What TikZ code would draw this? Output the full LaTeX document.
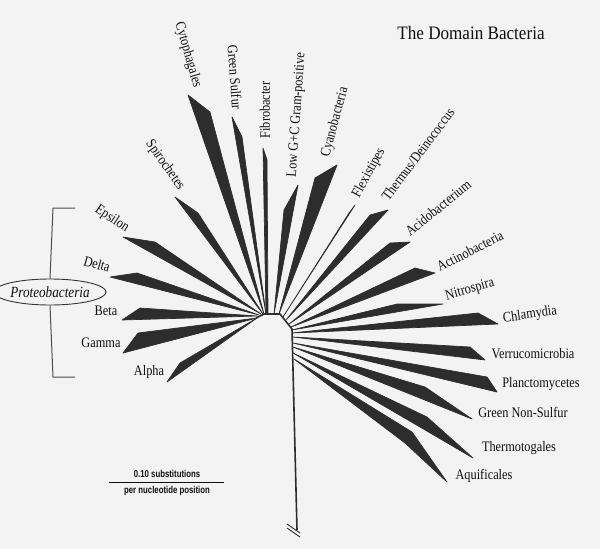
\documentclass[tikz,border=0pt]{standalone}
\usepackage{fontspec}
\usepackage{graphicx}
\usetikzlibrary{shapes.geometric}
\setmainfont{Liberation Serif}
\newfontfamily\barfont{Liberation Sans}
\newcommand\cnd[1]{\scalebox{0.85}[1]{#1}}
\newcommand\cndt[1]{\scalebox{0.9}[1]{#1}}
\newcommand\cndb[1]{\scalebox{0.78}[1]{#1}}
\definecolor{bg}{RGB}{243,243,243}
\definecolor{wedgecol}{RGB}{45,45,45}
\definecolor{inkcol}{RGB}{15,15,15}
\begin{document}
\begin{tikzpicture}[x=1pt,y=-1pt,
  wedge/.style={fill=wedgecol,draw=wedgecol,line width=0.7pt,line join=round},
  hub/.style={draw=wedgecol,line width=1.6pt,line join=round},
  lab/.style={font=\fontsize{14.5}{16}\selectfont,text=inkcol,inner sep=0pt},
  brk/.style={draw=black!70,line width=1pt},
  barlab/.style={font=\barfont\bfseries\fontsize{10}{11}\selectfont,text=inkcol,inner sep=0pt}]
\path[fill=bg] (0,0) rectangle (600,549);
\useasboundingbox (0,0) rectangle (600,549);

% hub
\coordinate (h1) at (256,318);
\coordinate (h2) at (264,314);
\coordinate (h3) at (280,314);
\coordinate (h4) at (292,329);
\coordinate (hend) at (297,530);
\draw[hub] (h1) -- (h2) -- (h3) -- (h4) -- (hend);
\coordinate (s1a) at (287,524); \coordinate (s1b) at (300,533);
\coordinate (s2a) at (287,528); \coordinate (s2b) at (300,537);
\draw[draw=wedgecol,line width=0.9pt] (s1a) -- (s1b);
\draw[draw=wedgecol,line width=0.9pt] (s2a) -- (s2b);

% wedges: left (Proteobacteria)
\fill[wedge] (257,318) -- (180,363) -- (167,382) -- cycle; % Alpha
\fill[wedge] (257,318) -- (138,333) -- (123,353) -- cycle; % Gamma
\fill[wedge] (257,316) -- (140,308) -- (122,320) -- cycle; % Beta
\fill[wedge] (259,315) -- (137,273) -- (110,277) -- cycle; % Delta
\fill[wedge] (261,314) -- (155,242) -- (123,237) -- cycle; % Epsilon
% top
\fill[wedge] (263,314) -- (198,213) -- (175,197) -- cycle; % Spirochetes
\fill[wedge] (264,314) -- (210,112) -- (188,95) -- cycle; % Cytophagales
\fill[wedge] (266,314) -- (242,137) -- (232,117) -- cycle; % Green Sulfur
\fill[wedge] (268,314) -- (267,160) -- (263,148) -- (266,314) -- cycle; % Fibrobacter
\fill[wedge] (274,314) -- (284,210) -- (298,185) -- cycle; % Low G+C
\fill[wedge] (279,314) -- (315,178) -- (337,165) -- cycle; % Cyanobacteria
\fill[wedge] (283,317) -- (349,213) -- (355,205) -- cycle; % Flexistipes
\fill[wedge] (286,320) -- (370,215) -- (388,210) -- cycle; % Thermus
\fill[wedge] (289,324) -- (390,243) -- (410,242) -- cycle; % Acidobacterium
\fill[wedge] (291,327) -- (415,268) -- (435,273) -- cycle; % Actinobacteria
% right
\fill[wedge] (292,330) -- (397,304) -- (443,304) -- cycle; % Nitrospira
\fill[wedge] (292,333) -- (478,313) -- (498,324) -- cycle; % Chlamydia
\fill[wedge] (293,337) -- (470,347) -- (485,360) -- cycle; % Verrucomicrobia
\fill[wedge] (293,343) -- (487,377) -- (497,392) -- cycle; % Planctomycetes
\fill[wedge] (293,347) -- (425,387) -- (472,419) -- cycle; % Green Non-Sulfur
\fill[wedge] (293,353) -- (427,417) -- (473,458) -- (420,427) -- cycle; % Thermotogales
\fill[wedge] (294,359) -- (412,432) -- (447,482) -- (405,443) -- cycle; % Aquificales

% labels
\node[lab,rotate=-74] (lCyto) at (188,55) {\cnd{Cytophagales}};
\node[lab,rotate=-86] (lGS) at (235,77) {\cnd{Green Sulfur}};
\node[lab,rotate=90] (lFib) at (265,110) {\cnd{Fibrobacter}};
\node[lab,rotate=86] (lLow) at (297,115) {\cnd{Low G+C Gram-positive}};
\node[lab,rotate=75] (lCyan) at (335,122) {\cnd{Cyanobacteria}};
\node[lab,rotate=61] (lFlex) at (369,173) {\cnd{Flexistipes}};
\node[lab,rotate=53] (lTher) at (418,154) {\cnd{Thermus/Deinococcus}};
\node[lab,rotate=39] (lAcid) at (438,208) {\cnd{Acidobacterium}};
\node[lab,rotate=27] (lActi) at (470,251) {\cnd{Actinobacteria}};
\node[lab,rotate=16] (lNit) at (470,290) {\cnd{Nitrospira}};
\node[lab,rotate=8] (lChl) at (530,315) {\cnd{Chlamydia}};
\node[lab] (lVer) at (533,354) {\cnd{Verrucomicrobia}};
\node[lab] (lPla) at (541,384) {\cnd{Planctomycetes}};
\node[lab] (lGNS) at (523,412) {\cnd{Green Non-Sulfur}};
\node[lab] (lTmt) at (519,448) {\cnd{Thermotogales}};
\node[lab] (lAqu) at (484,476) {\cnd{Aquificales}};
\node[lab,rotate=-55] (lSpi) at (165,165) {\cnd{Spirochetes}};
\node[lab,rotate=-34] (lEps) at (112,219) {\cnd{Epsilon}};
\node[lab,rotate=-16] (lDel) at (97,264) {\cnd{Delta}};
\node[lab] (lBet) at (106,311) {\cnd{Beta}};
\node[lab] (lGam) at (101,343) {\cnd{Gamma}};
\node[lab] (lAlp) at (149,372) {\cnd{Alpha}};

% title
\node[font=\fontsize{19}{21}\selectfont,text=inkcol,inner sep=0pt] (title) at (471,33) {\cndt{The Domain Bacteria}};

% Proteobacteria bracket
\coordinate (bt) at (53,208); \coordinate (btr) at (75,208);
\coordinate (bb) at (53,377); \coordinate (bbr) at (75,377);
\node[draw=black!80,line width=0.9pt,ellipse,fill=bg,inner sep=0pt,minimum width=86pt,minimum height=26pt,
      font=\itshape\fontsize{15.5}{17}\selectfont,text=inkcol] (proteo) at (50,292) {\cnd{Proteobacteria}};
\draw[brk] (btr) -- (bt) -- (proteo.north);
\draw[brk] (bbr) -- (bb) -- (proteo.south);

% scale bar
\coordinate (sb1) at (109,482); \coordinate (sb2) at (224,482);
\draw[draw=inkcol,line width=0.9pt] (sb1) -- (sb2);
\node[barlab] (sbtop) at (167,474) {\cndb{0.10 substitutions}};
\node[barlab] (sbbot) at (167,491) {\cndb{per nucleotide position}};
\end{tikzpicture}
\end{document}
